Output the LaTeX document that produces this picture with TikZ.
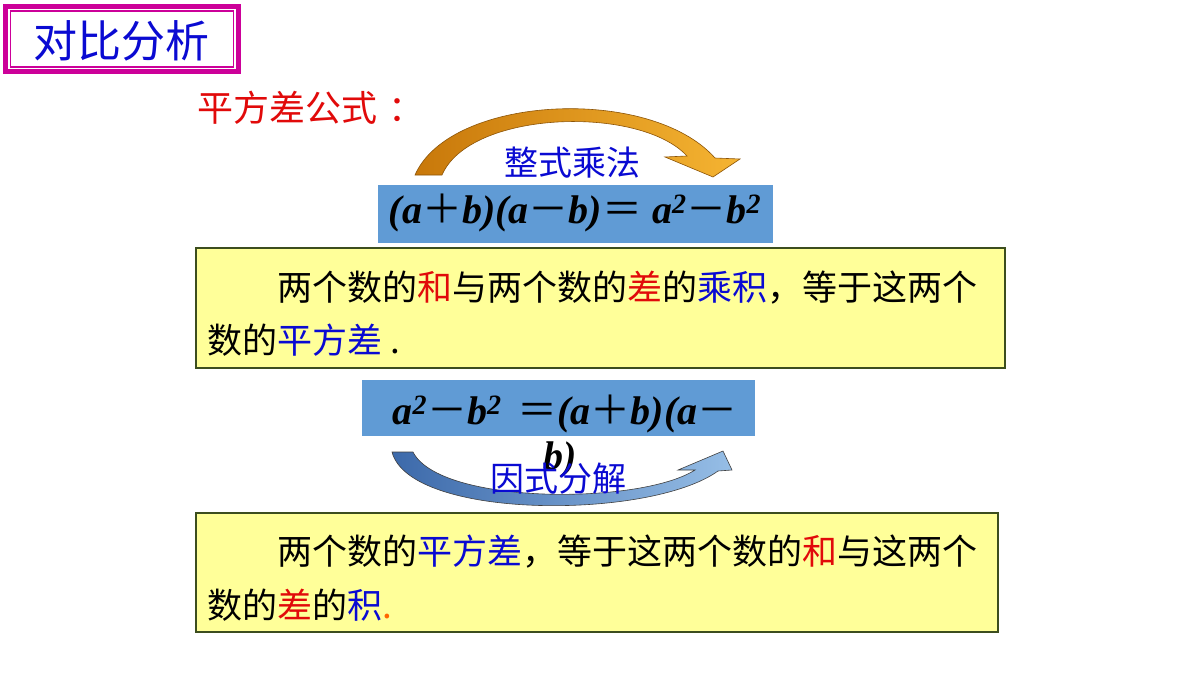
\documentclass[tikz,border=0pt]{standalone}
\usepackage{fontspec}
\setmainfont{Liberation Serif}
\newfontfamily\cjk{Noto Sans CJK SC}
\newfontfamily\fml{Liberation Serif}
\usetikzlibrary{shapes.geometric}
\definecolor{tmag}{RGB}{204,0,153}
\definecolor{tblue}{RGB}{10,10,210}
\definecolor{tred}{RGB}{225,10,10}
\definecolor{boxblue}{RGB}{96,155,213}
\definecolor{ylw}{RGB}{255,255,153}
\definecolor{ybord}{RGB}{60,78,30}
\definecolor{orgA}{RGB}{200,120,10}
\definecolor{orgB}{RGB}{245,180,50}
\definecolor{bluA}{RGB}{60,105,170}
\definecolor{bluB}{RGB}{150,190,230}
\newcommand{\redt}[1]{\textcolor{tred}{#1}}
\newcommand{\bluet}[1]{\textcolor{tblue}{#1}}
\newcommand{\sy}[1]{{\cjk\mdseries\upshape #1}}
\tikzset{
  ctext/.style={inner sep=0pt, anchor=base west, font=\cjk\fontsize{35}{40}\selectfont},
  ltext/.style={inner sep=0pt, anchor=base, font=\cjk\fontsize{34}{40}\selectfont, text=tblue},
  ftext/.style={inner sep=0pt, anchor=base, font=\fml\bfseries\itshape\fontsize{40}{44}\selectfont},
  ybox/.style={draw=ybord, fill=ylw, line width=2pt, inner sep=0pt},
  bbox/.style={fill=boxblue, inner sep=0pt}
}
\begin{document}
\begin{tikzpicture}[x=1pt,y=-1pt]
\useasboundingbox (0,0) rectangle (1200,675);
\fill[white] (0,0) rectangle (1200,675);

% title
\node[draw=tmag, line width=5pt, minimum width=233pt, minimum height=65pt, inner sep=0pt] (tout) at (122,39) {};
\node[draw=tmag, line width=1.3pt, minimum width=223pt, minimum height=56pt, inner sep=0pt] (tin) at (122,39) {};
\node[inner sep=0pt, anchor=base, font=\cjk\fontsize{44}{50}\selectfont, text=tblue] (title) at (122,57) {对比分析};

% heading
\node[ctext, text=tred, font=\cjk\fontsize{36}{40}\selectfont] (head) at (197,121) {平方差公式\hspace{0.3em}：};

% top orange arrow
\shade[left color=orgA, right color=orgB, draw=orgA!70!black, line width=0.6pt]
  (415,175) .. controls (450,95) and (650,85) .. (715,158)
  -- (740,159) -- (713,177) -- (665,157) -- (687,156)
  .. controls (640,105) and (470,110) .. (442,175) -- cycle;
\node[ltext] (mul) at (572,175) {整式乘法};

% formula 1
\node[bbox, minimum width=395pt, minimum height=58pt] (f1box) at (575.5,214) {};
\node[ftext] (f1) at (575,223) {(a\sy{＋}b)(a\sy{－}b)\sy{＝} a\textsuperscript{2}\sy{－}b\textsuperscript{2}};

% yellow box 1
\node[ybox, minimum width=809pt, minimum height=120pt] (y1) at (600.5,308) {};
\node[ctext] (y1a) at (277,300) {两个数的\redt{和}与两个数的\redt{差}的\bluet{乘积}，等于这两个};
\node[ctext] (y1b) at (207,353) {数的\bluet{平方差} .};

% formula 2
\node[bbox, minimum width=393pt, minimum height=56pt] (f2box) at (558.5,408) {};
\node[ftext] (f2a) at (565,424) {a\textsuperscript{2}\sy{－}b\textsuperscript{2}\hspace{0.4em}\sy{＝}(a\sy{＋}b)(a\sy{－}};

% bottom blue arrow
\shade[left color=bluA, right color=bluB, draw=black!75, line width=0.6pt]
  (392,452) .. controls (410,520) and (650,520) .. (718,471)
  -- (732,470) -- (723,451) -- (678,470) -- (695,470)
  .. controls (640,505) and (440,505) .. (413,452) -- cycle;
\node[ftext] (f2b) at (560,469) {b)};
\node[ltext] (fac) at (558,491) {因式分解};

% yellow box 2
\node[ybox, minimum width=802pt, minimum height=119pt] (y2) at (597,572.5) {};
\node[ctext] (y2a) at (277,564) {两个数的\bluet{平方差}，等于这两个数的\redt{和}与这两个};
\node[ctext] (y2b) at (207,618) {数的\redt{差}的\bluet{积}\textcolor{orange!80!red}{.}};
\end{tikzpicture}
\end{document}
